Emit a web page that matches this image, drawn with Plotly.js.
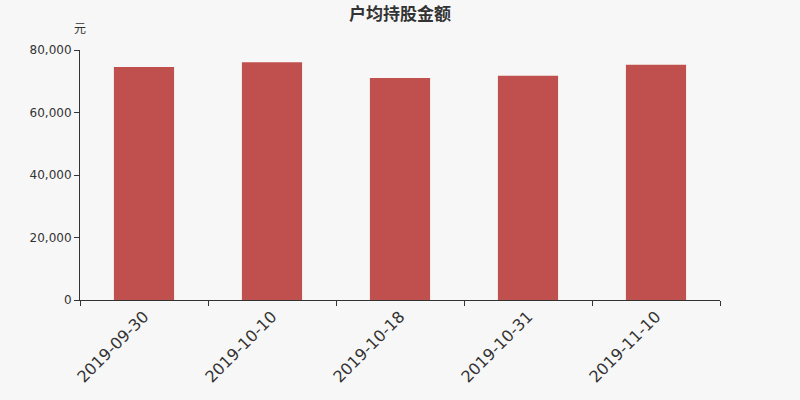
<!DOCTYPE html>
<html>
<head>
<meta charset="utf-8">
<script src="https://cdn.plot.ly/plotly-3.0.1.min.js"></script>
<style>
  html, body { margin: 0; padding: 0; background: #f7f7f7; }
  #plot { width: 800px; height: 400px; }
</style>
</head>
<body>
<div id="plot"></div>
<script>
// 户均持股金额 (元) per report date
const dates = ['2019-09-30', '2019-10-10', '2019-10-18', '2019-10-31', '2019-11-10'];
const amounts = [74560, 76050, 71040, 71780, 75300];
const yTicks = [0, 20000, 40000, 60000, 80000];
const yTickText = ['0', '20,000', '40,000', '60,000', '80,000'];

const textColor = '#333333';
const axisFont = 'DejaVu Sans, sans-serif';

Plotly.newPlot('plot', [{
    type: 'bar',
    x: dates,
    y: amounts,
    marker: {color: '#c0504d'},
    width: 0.47,
    hoverinfo: 'x+y'
}], {
    width: 800,
    height: 400,
    paper_bgcolor: '#f7f7f7',
    plot_bgcolor: '#f7f7f7',
    margin: {l: 80, r: 80, t: 50, b: 100},
    showlegend: false,
    title: {
        text: '<b>户均持股金额</b>',
        font: {family: 'Noto Sans CJK SC, sans-serif', size: 17, color: textColor},
        x: 0.5, xanchor: 'center',
        yref: 'container',
        y: 0.965, yanchor: 'middle'
    },
    xaxis: {
        type: 'category',
        tickson: 'boundaries',
        ticks: 'outside',
        ticklen: 5,
        tickcolor: textColor,
        showline: true,
        linecolor: textColor,
        linewidth: 1,
        showgrid: false,
        zeroline: false,
        tickangle: -45,
        tickfont: {family: axisFont, size: 16, color: textColor}
    },
    yaxis: {
        range: [0, 80000],
        tickvals: yTicks,
        ticktext: yTickText,
        ticks: 'outside',
        ticklen: 5,
        tickcolor: textColor,
        showline: true,
        linecolor: textColor,
        linewidth: 1,
        showgrid: false,
        zeroline: false,
        tickfont: {family: axisFont, size: 12, color: textColor}
    },
    annotations: [{
        text: '元',
        xref: 'paper', yref: 'paper',
        x: 0, y: 1,
        xanchor: 'center', yanchor: 'bottom',
        yshift: 12,
        showarrow: false,
        font: {family: 'Noto Sans CJK SC, sans-serif', size: 12, color: textColor}
    }]
}, {displayModeBar: false, staticPlot: true});
</script>
</body>
</html>
